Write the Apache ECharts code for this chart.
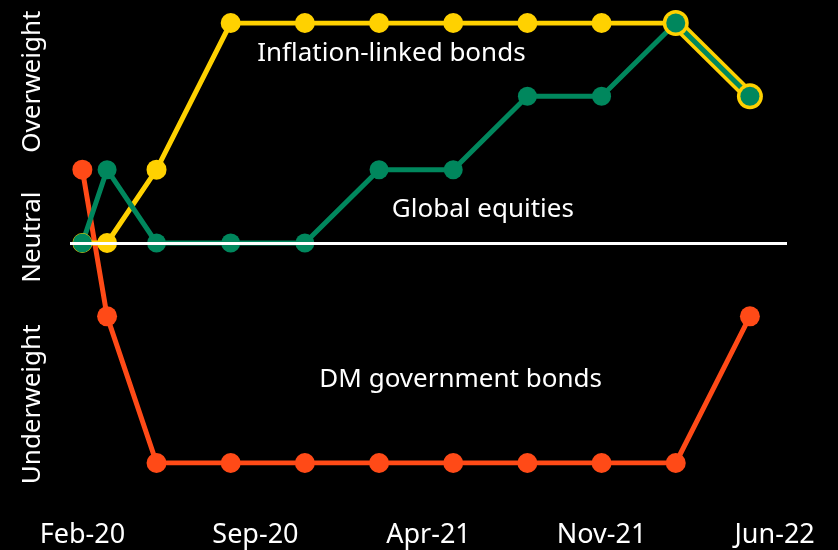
<!DOCTYPE html>
<html>
<head>
<meta charset="utf-8">
<style>html,body{margin:0;padding:0;background:#000;}#c{width:838px;height:550px;}</style>
<script src="https://cdn.jsdelivr.net/npm/echarts@6/dist/echarts.min.js"></script>
</head>
<body>
<div id="c"></div>
<script>
// month index from Feb-20
const months = [0, 1, 3, 6, 9, 12, 15, 18, 21, 24, 27];
const inflationLinked = [0, 0, 1, 3, 3, 3, 3, 3, 3, 3, 2];
const globalEquities = [0, 1, 0, 0, 0, 1, 1, 2, 2, 3, 2];
const dmGovBonds = [1, -1, -3, -3, -3, -3, -3, -3, -3, -3, -1];
const xTickMonths = [0, 7, 14, 21, 28];
const xTickLabels = ['Feb-20', 'Sep-20', 'Apr-21', 'Nov-21', 'Jun-22'];
const tierValues = [-2.2, 0.08, 2.2];
const tierLabels = ['Underweight', 'Neutral', 'Overweight'];
const seriesNames = ['Inflation-linked bonds', 'Global equities', 'DM government bonds'];

const YELLOW = '#FFD100', GREEN = '#00875D', RED = '#FF4A17';
const FONT = 'Noto Sans';
const pairs = (ys) => months.map((m, i) => [m, ys[i]]);

const chart = echarts.init(document.getElementById('c'), null, {renderer: 'canvas'});
const textLabel = (name, coord) => ({
  coord: coord, symbolSize: 0,
  label: {show: true, formatter: name, color: '#fff', fontSize: 26, fontFamily: FONT, position: 'inside'}
});
chart.setOption({
  backgroundColor: '#000',
  animation: false,
  grid: {left: 70, right: 51, top: 23, bottom: 87},
  xAxis: {
    type: 'value', min: -0.5, max: 28.5,
    axisLine: {show: false}, axisTick: {show: false}, splitLine: {show: false},
    axisLabel: {
      customValues: xTickMonths, margin: 59,
      color: '#fff', fontSize: 27, fontFamily: FONT,
      formatter: (v) => xTickLabels[xTickMonths.indexOf(v)]
    }
  },
  yAxis: {
    type: 'value', min: -3, max: 3,
    axisLine: {show: false}, axisTick: {show: false}, splitLine: {show: false},
    axisLabel: {
      customValues: tierValues, rotate: 90, margin: 24,
      color: '#fff', fontSize: 26, fontFamily: FONT,
      formatter: (v) => tierLabels[tierValues.indexOf(v)]
    }
  },
  series: [
    {
      name: seriesNames[2], type: 'line', data: pairs(dmGovBonds),
      color: RED, lineStyle: {width: 5, color: RED}, symbol: 'circle', symbolSize: 20,
      itemStyle: {color: RED},
      markLine: {
        silent: true, symbol: 'none', label: {show: false},
        lineStyle: {color: '#fff', width: 3, type: 'solid'},
        data: [{yAxis: 0}]
      },
      markPoint: {data: [textLabel(seriesNames[2], [15.3, -1.86])]}
    },
    {
      name: seriesNames[0], type: 'line', data: pairs(inflationLinked),
      lineStyle: {width: 5, color: YELLOW}, symbol: 'circle', symbolSize: 20,
      itemStyle: {color: YELLOW},
      markPoint: {data: [textLabel(seriesNames[0], [12.5, 2.58])]}
    },
    {
      name: seriesNames[0] + ' overlap', type: 'line', data: pairs(inflationLinked).slice(-2),
      lineStyle: {width: 12, color: YELLOW}, symbol: 'circle', symbolSize: 26,
      itemStyle: {color: YELLOW}
    },
    {
      name: seriesNames[1], type: 'line', data: pairs(globalEquities),
      lineStyle: {width: 5, color: GREEN}, symbol: 'circle', symbolSize: 19,
      itemStyle: {color: GREEN},
      markPoint: {data: [textLabel(seriesNames[1], [16.2, 0.46])]}
    }
  ]
});
</script>
</body>
</html>
